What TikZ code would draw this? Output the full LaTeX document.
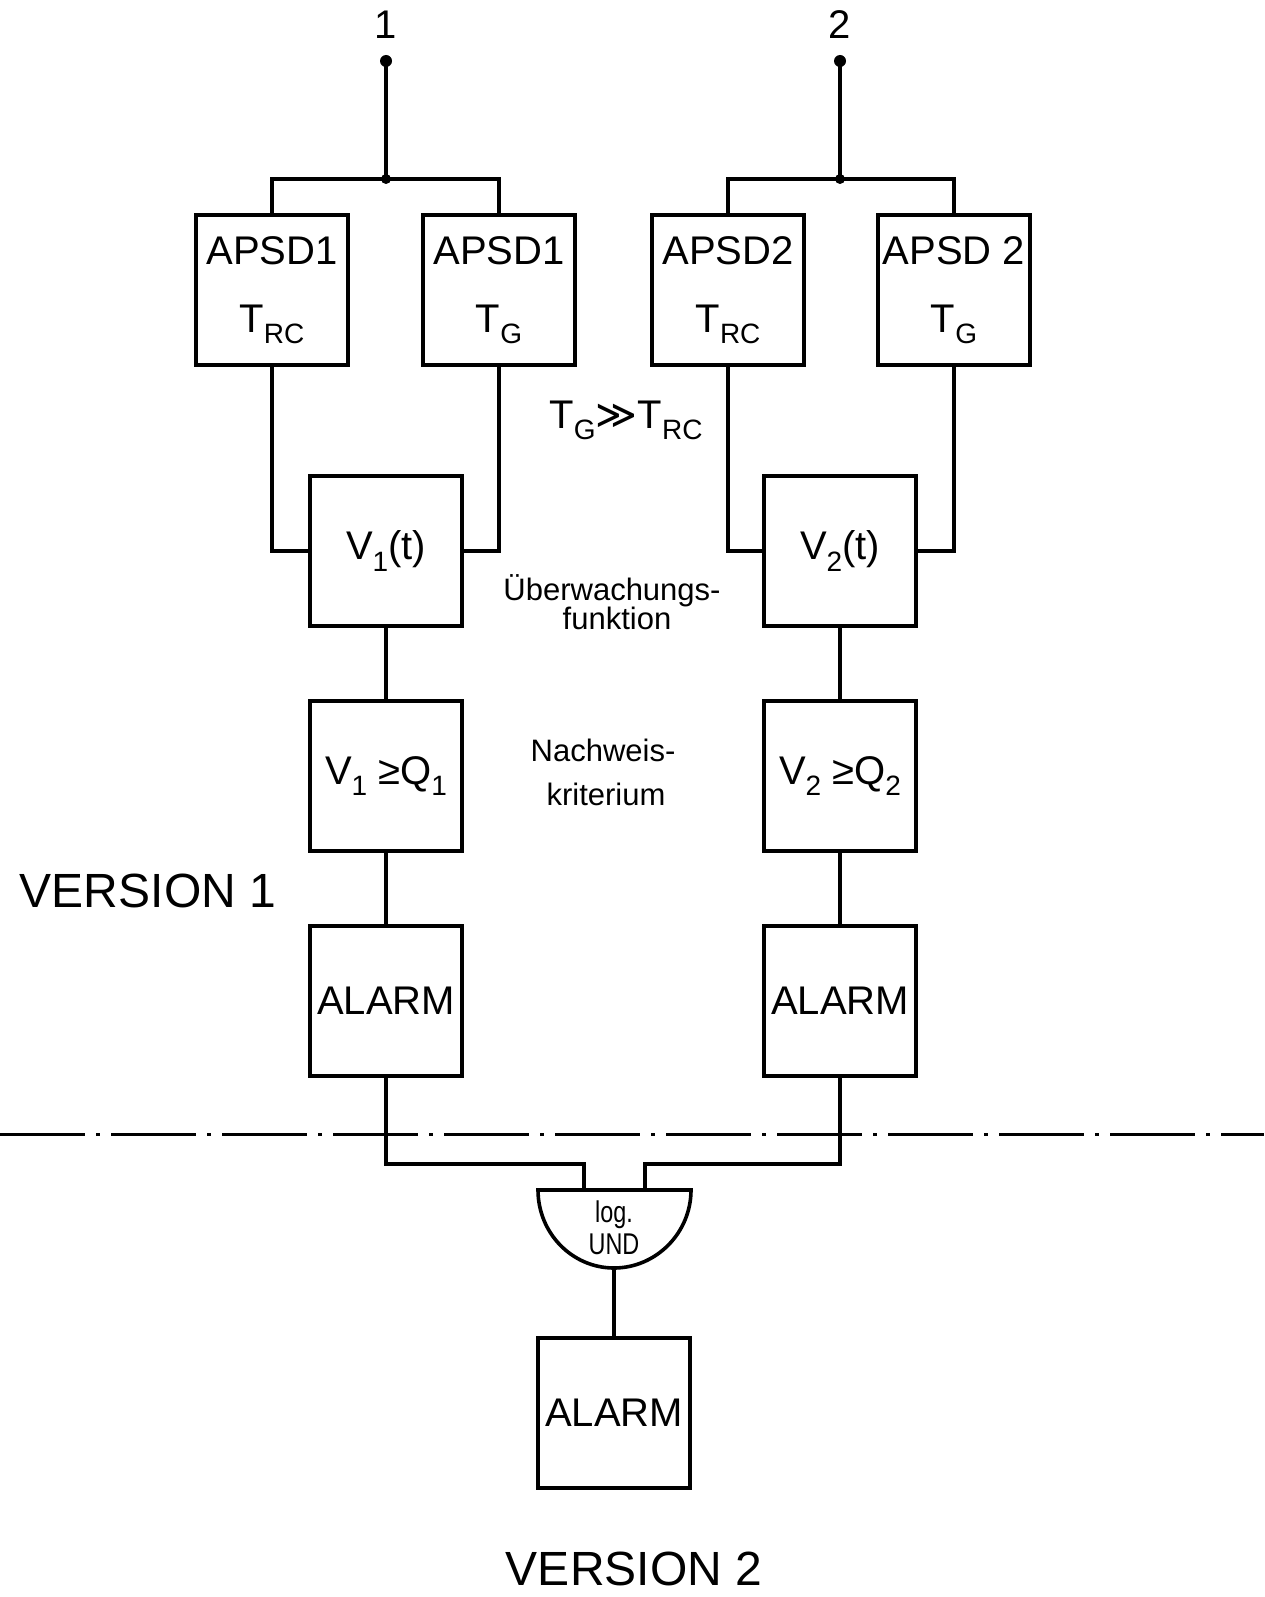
\documentclass[tikz,border=0pt]{standalone}
\usepackage{fontspec}
\setmainfont{Liberation Sans}
\newfontfamily\symf{DejaVu Sans}
\newfontfamily\narrowf[FakeStretch=0.78]{Liberation Sans}
\newcommand\lsub[1]{\raisebox{-0.28em}{\fontsize{28}{28}\selectfont #1}}
\begin{document}
\begin{tikzpicture}[x=1pt,y=-1pt,line width=3.6pt,
  blk/.style={draw,rectangle,minimum width=152pt,minimum height=150pt,inner sep=0pt,align=center,font=\fontsize{40}{68}\selectfont},
  lbl/.style={inner sep=0pt,align=center,font=\fontsize{40}{48}\selectfont},
  note/.style={inner sep=0pt,align=center,font=\fontsize{31}{29}\selectfont},
  big/.style={inner sep=0pt,font=\fontsize{48}{56}\selectfont},
  dashdot line/.style={line width=3pt,dash pattern=on 85pt off 11pt on 4pt off 11pt}]
\useasboundingbox (0,0) rectangle (1264,1597);

% terminals
\coordinate (t1) at (386,61);
\coordinate (j1) at (386,179);
\coordinate (t2) at (840,61);
\coordinate (j2) at (840,179);
\node[lbl] (n1) at (386,25) {1};
\node[lbl] (n2) at (840,25) {2};

% APSD blocks
\node[blk] (a1) at (272,290) {APSD1\\T\lsub{RC}};
\node[blk] (g1) at (499,290) {APSD1\\T\lsub{G}};
\node[blk] (a2) at (728,290) {APSD2\\T\lsub{RC}};
\node[blk] (g2) at (954,290) {APSD 2\\T\lsub{G}};

% monitoring function
\node[blk] (v1) at (386,551) {V\lsub{1}(t)};
\node[blk] (v2) at (840,551) {V\lsub{2}(t)};

% detection criterion
\node[blk] (q1) at (386,776) {V\lsub{1} ≥Q\lsub{1}};
\node[blk] (q2) at (840,776) {V\lsub{2} ≥Q\lsub{2}};

% alarms
\node[blk] (al1) at (386,1001) {ALARM};
\node[blk] (al2) at (840,1001) {ALARM};
\node[blk] (al3) at (614,1413) {ALARM};

% texts
\node[lbl] (rel) at (626,420) {T\lsub{G}{\symf ≫}T\lsub{RC}};
\node[note] (uw) at (612,602) {Überwachungs-\\\hspace*{10pt}funktion};
\node[note] (nw1) at (603,750) {Nachweis-};
\node[note] (nw2) at (606,794) {kriterium};
\node[big] (ver1) at (148,891) {VERSION 1};
\node[big] (ver2) at (634,1569) {VERSION 2};

% wiring top
\draw (t1) -- (j1);
\draw (a1.north) |- (j1) -| (g1.north);
\draw (t2) -- (j2);
\draw (a2.north) |- (j2) -| (g2.north);
\fill (t1) circle (6pt);
\fill (j1) circle (5pt);
\fill (t2) circle (6pt);
\fill (j2) circle (5pt);

\draw (a1.south) |- (v1.west);
\draw (g1.south) |- (v1.east);
\draw (a2.south) |- (v2.west);
\draw (g2.south) |- (v2.east);

\draw (v1.south) -- (q1.north);
\draw (q1.south) -- (al1.north);
\draw (v2.south) -- (q2.north);
\draw (q2.south) -- (al2.north);

% separator
\coordinate (dl) at (0,1134);
\coordinate (dr) at (1264,1134);
\draw[dashdot line] (dl) -- (dr);

% AND gate
\coordinate (gl) at (584,1190);
\coordinate (gr) at (645,1190);
\coordinate (gb) at (614,1268);
\coordinate (kl) at (386,1164);
\coordinate (kr) at (840,1164);
\draw (538,1190) -- (691,1190) .. controls (691,1233) and (656,1268) .. (gb)
      .. controls (572,1268) and (538,1233) .. (538,1190) -- cycle;
\node[inner sep=0pt,align=center,font=\narrowf\fontsize{30}{32}\selectfont] (gate) at (614,1228) {log.\\UND};
\draw (al1.south) -- (kl) -| (gl);
\draw (al2.south) -- (kr) -| (gr);
\draw (gb) -- (al3.north);
\end{tikzpicture}
\end{document}
